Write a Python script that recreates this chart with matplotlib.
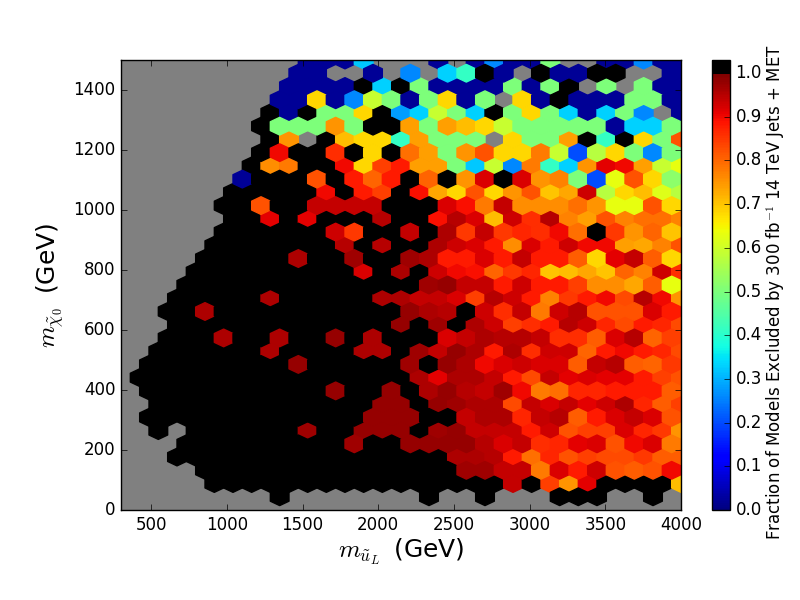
import numpy as np
import matplotlib
matplotlib.use('Agg')
import matplotlib.pyplot as plt
from matplotlib.colors import ListedColormap

# Fraction excluded per hex cell, in percent (100 = every model excluded, G = no models)
G = np.nan

row_01 = [G]*8 + [100] + [G]*7 + [100] + [G]*2 + [100] + [G]*3 + [100, 100, 100] + [G]*2 + [100, G]
row_02 = [G]*5 + [100]*16 + [94, 100, 84, 75, 91, 100, 100, 100, 100, 71]
row_03 = [G]*4 + [100]*14 + [97, 97, 94, 94, 78, 92, 88, 93, 82, 81, 82, 90]
row_04 = [G]*3 + [100]*15 + [96, 96, 95, 88, 79, 87, 82, 84, 83, 83, 85, 81, 81]
row_05 = [G]*3 + [100]*9 + [97, 100, 100, 98, 98, 98, 98, 95, 92, 94, 86, 87, 91, 92, 82, 90, 92, 78]
row_06 = [G, G, 100, G] + [100]*6 + [97, 100, 100, 98, 98, 98, 100, 97, 98, 94, 94, 94, 88, 93, 82, 84, 84, 92, 87, 85, 75]
row_07 = [G] + [100]*12 + [98, 98, 98, 100, 100, 94, 96, 96, 87, 94, 95, 81, 88, 92, 94, 92, 82]
row_08 = [G, G] + [100]*12 + [98, 98, 100, 98, 97, 96, 96, 83, 94, 92, 94, 91, 93, 96, 87, 81, 84]
row_09 = [G] + [100]*10 + [98, 100, 100, 98, 100, 96, 98, 95, 94, 97, 90, 78, 79, 87, 87, 88, 88, 88, 81]
row_10 = [G] + [100]*15 + [96, 91, 96, 96, 94, 88, 83, 94, 91, 92, 91, 91, 88, 84, 82]
row_11 = [G] + [100]*8 + [98] + [100]*5 + [97, 100, 98, 96, 90, 92, 93, 92, 92, 81, 94, 95, 81, 80, 85]
row_12 = [G, G] + [100]*6 + [96] + [100]*4 + [96, 96, 100, 97, 94, 98, 96, 88, 96, 86, 93, 93, 80, 88, 90, 88, 87, 83]
row_13 = [G, G] + [100]*3 + [96, 100, 100, 96, 100, 100, 98, 100, 96, 100, 100, 100, 92, 94, 96, 95, 95, 94, 86, 86, 81, 92, 95, 80, 84]
row_14 = [G]*3 + [100]*12 + [98, 100, 97, 100, 96, 93, 84, 86, 88, 95, 93, 87, 83, 88, 87, 83]
row_15 = [G, G, 100, 100, 96] + [100]*10 + [98, 96, 95, 100, 93, 86, 94, 78, 93, 95, 82, 82, 82, 92, 88]
row_16 = [G]*3 + [100]*5 + [96] + [100]*5 + [96, 96, 94, 94, 92, 84, 95, 93, 88, 77, 85, 88, 90, 83, 95, 90, 75]
row_17 = [G]*3 + [100]*13 + [97, 98, 94, 94, 88, 93, 88, 88, 84, 76, 76, 73, 81, 63]
row_18 = [G]*4 + [100]*9 + [92, 100, 96, 100, 93, 90, 89, 80, 85, 87, 70, 71, 73, 70, 80, 77, 93, 86]
row_19 = [G]*4 + [100]*5 + [96, 100, 100, 97, 100, 100, 97, 96, 88, 88, 92, 88, 94, 88, 88, 81, 68, 91, 94, 81, 68]
row_20 = [G]*5 + [100]*7 + [95, 100, 95, 100, 100, 96, 93, 92, 88, 76, 92, 88, 93, 90, 90, 74, 73, 77, 82]
row_21 = [G]*5 + [100]*6 + [93, 85, 100, 100, 94, 100, 96, 85, 94, 85, 87, 86, 90, 79, 100, 85, 75, 80, 70]
row_22 = [G]*6 + [100, 100, 91, 100, 91, 100, 100, 100, 95, 100, 100, 89, 95, 92, 71, 93, 86, 95, 77, 74, 82, 77, 79, 79, 77]
row_23 = [G]*5 + [100, 100, 82, 100, 100, 94, 94, 94, 94, 100, 100, 100, 92, 89, 78, 94, 76, 76, 76, 79, 75, 63, 63, 82, 68]
row_24 = [G]*6 + [100]*5 + [90, 100, 88, 84, 100, 89, 73, 68, 82, 68, 75, 82, 70, 73, 93, 57, 68, 71, 62, 57]
row_25 = [G]*6 + [2, 100, 100, 100, 82, 100, 88, 80, 88, 100, 80, 100, 75, 92, 100, 92, 75, 77, 50, 20, 63, 82, 68, 52]
row_26 = [G]*7 + [100, 76, 78, 100, 100, 90, 68, 84, 88, 74, 74, 50, 32, 59, 26, 78, 41, 33, 75, 91, 90, 74, 59, 63]
row_27 = [G]*7 + [100, 90, 100, 100, 86, 100, 68, 100, 79, 74, 50, 75, 82, 68, 68, 78, 59, 20, 57, 68, 50, 26, 50]
row_28 = [G]*8 + [100, 75, G, 100, 71, 68, 68, 41, 74, 50, 50, 50, G, 68, 50, 50, 74, 100, 41, 100, 68, 50, 82]
row_29 = [G]*7 + [100, 50, 50, 50, 75, 50, 100, 100, 74, 50, 74, 71, 68, 59, 50, 50, 50, 50, 50, 2, 33, 33, 50]
row_30 = [G]*8 + [100, 2, 100, 50, 50, 68, 100, 28, 33, 59, 50, 33, 100, 50, 68, 50, 33, 2, 33, 50, 26, G, 2]
row_31 = [G]*8 + [2, 2, 68, 2, 26, 59, 50, 2, 50, 68, 2, 50, G, 68, 2, 100, 2, 2, 2, 50, 50, 2]
row_32 = [G]*9 + [2, 2, 2, 2, 100, 33, 100, 50, 2, 2, 2, 2, 50, 2, 50, 100, G, 50, G, 50, 2, 2]
row_33 = [G]*9 + [2, 2, G, G, 2, G, 26, G, 33, 41, 100, 2, G, 100, 2, 2, 100, 100, G, G, 2]
row_34 = [G]*10 + [2, 2, 2, 32, G, G, G, 2, G, 2, 26, 2, 2, 50, G, G, 2, 2, 26, 2, 2]

rows = [row_01, row_02, row_03, row_04, row_05, row_06, row_07, row_08, row_09, row_10,
        row_11, row_12, row_13, row_14, row_15, row_16, row_17, row_18, row_19, row_20,
        row_21, row_22, row_23, row_24, row_25, row_26, row_27, row_28, row_29, row_30,
        row_31, row_32, row_33, row_34]

x_min, x_max = 300, 4000
y_min, y_max = 0, 1500
gridsize = 30
ny = int(gridsize / np.sqrt(3))
dx = (x_max - x_min) / gridsize
dy = (y_max - y_min) / ny / 2

# one point per cell, nudged up a little so hexbin puts it in the right lattice
xs, ys, cs = [], [], []
for r, vals in enumerate(rows, start=1):
    for i, v in enumerate(vals):
        if np.isnan(v):
            continue
        xs.append(x_min + (i + 0.5 * (r % 2)) * dx)
        ys.append(y_min + (r + 0.1) * dy)
        cs.append(v / 100.0)

plt.style.use('classic')

# jet up to 1.0, black for exactly 1.0 and above
vmax = 1.03
jet = matplotlib.colormaps['jet'](np.linspace(0, 1, 1000))
colors = np.vstack([jet[:999], np.tile([0, 0, 0, 1], (31, 1))])
cmap = ListedColormap(colors)

fig = plt.figure(figsize=(8, 6), dpi=100, facecolor='white')
ax = fig.add_axes([0.15125, 0.15, 0.7, 0.75], facecolor='gray')
cax = fig.add_axes([0.89, 0.15, 0.0225, 0.75])

hb = ax.hexbin(xs, ys, C=cs, gridsize=gridsize, extent=(x_min, x_max, y_min, y_max),
               cmap=cmap, vmin=0, vmax=vmax)
ax.set_xlim(x_min, x_max)
ax.set_ylim(y_min, y_max)
ax.set_xticks(np.arange(500, 4001, 500))
ax.set_yticks(np.arange(0, 1401, 200))
ax.tick_params(labelsize=12)

ax.set_xlabel(r'$m_{\tilde{u}_L}\,$ (GeV)', fontsize=18, labelpad=2)
ax.set_ylabel(r'$m_{\tilde{\chi}_0}\,$ (GeV)', fontsize=18)

cbar = fig.colorbar(hb, cax=cax, ticks=np.arange(0, 1.01, 0.1), format='%.1f')
cbar.ax.tick_params(labelsize=12)
cbar.set_label(r'Fraction of Models Excluded by 300 fb$^{-1}$ 14 TeV Jets + MET',
               fontsize=12, labelpad=1.4, y=0.485)

fig.savefig('out.png', dpi=100, facecolor='white')
